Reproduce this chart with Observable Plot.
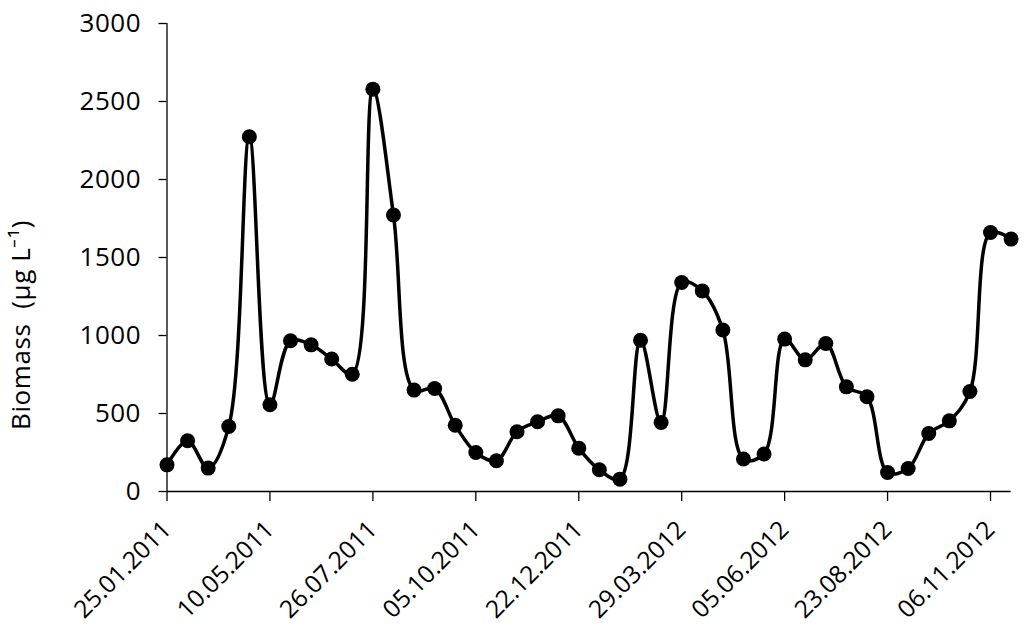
<!DOCTYPE html>
<html>
<head>
<meta charset="utf-8">
<script src="https://cdn.jsdelivr.net/npm/d3@7"></script>
<script src="https://cdn.jsdelivr.net/npm/@observablehq/plot@0.6"></script>
<style>
  html, body { margin: 0; padding: 0; background: #fff; }
  #chart { width: 1024px; height: 628px; }
</style>
</head>
<body>
<div id="chart"></div>
<script>
// Sampling index (0..41) and biomass values (µg L-1)
const sampleIndex = d3.range(0, 42);
const biomass = [171, 325, 150, 417, 2274, 556, 966, 940, 849, 752,
                 2579, 1772, 650, 660, 425, 250, 197, 383, 447, 485,
                 278, 139, 79, 970, 442, 1340, 1286, 1035, 208, 240,
                 977, 844, 949, 671, 607, 122, 147, 372, 453, 641,
                 1660, 1618];
// Labelled category positions and their date labels
const tickIndex = [0, 5, 10, 15, 20, 25, 30, 35, 40];
const tickLabels = ["25.01.2011", "10.05.2011", "26.07.2011", "05.10.2011", "22.12.2011",
                    "29.03.2012", "05.06.2012", "23.08.2012", "06.11.2012"];
const yTicks = [0, 500, 1000, 1500, 2000, 2500, 3000];
const yLabel = "Biomass\u00a0 (µg L⁻¹)";

const data = sampleIndex.map((i) => ({i, v: biomass[i]}));

const chart = Plot.plot({
  width: 1024,
  height: 628,
  marginLeft: 166.5,
  marginRight: 13.4,
  marginTop: 23,
  marginBottom: 137,
  style: {fontFamily: "'Open Sans', sans-serif", fontSize: "26px", color: "#000", background: "#fff", overflow: "visible"},
  x: {domain: [0, 41]},
  y: {domain: [0, 3000]},
  marks: [
    Plot.axisY({ticks: yTicks, tickSize: 8, tickPadding: 18, tickFormat: (d) => String(d),
                label: yLabel, labelAnchor: "center", labelOffset: 156, labelArrow: "none",
                stroke: "#000", strokeWidth: 1.3, fontSize: 26}),
    Plot.axisX({ticks: tickIndex, tickSize: 10, tickPadding: 24, tickRotate: -45,
                tickFormat: (d) => tickLabels[tickIndex.indexOf(d)], label: null,
                stroke: "#000", strokeWidth: 1.3, fontSize: 24.5}),
    Plot.ruleX([0], {stroke: "#000", strokeWidth: 1.3}),
    Plot.ruleY([0], {stroke: "#000", strokeWidth: 1.3}),
    Plot.line(data, {x: "i", y: "v", curve: "catmull-rom", stroke: "#000", strokeWidth: 3.5}),
    Plot.dot(data, {x: "i", y: "v", r: 7.5, fill: "#000", stroke: "none"})
  ]
});
// slight tracking on y tick labels and title (Calibri-like width)
chart.querySelectorAll('g[aria-label="y-axis tick label"] text').forEach(t => t.style.letterSpacing = "0.5px");
// place the y-axis title like the reference (slightly below the frame's middle)
const lab = chart.querySelector('g[aria-label="y-axis label"] text');
if (lab) {
  lab.style.letterSpacing = "0.6px";
  lab.setAttribute("transform", "translate(21,325) rotate(-90)");
  lab.setAttribute("text-anchor", "middle");
  lab.setAttribute("dy", "0.35em");
  lab.removeAttribute("x"); lab.removeAttribute("y");
  const g = lab.parentNode; g.removeAttribute("transform");
}
document.getElementById("chart").appendChild(chart);
</script>
</body>
</html>
